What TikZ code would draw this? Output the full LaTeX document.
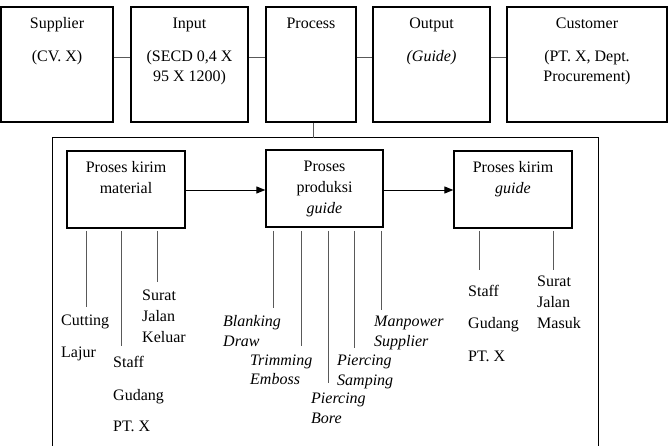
\documentclass[tikz,border=0pt]{standalone}
\usepackage{fontspec}
\setmainfont{Liberation Serif}
\usetikzlibrary{arrows.meta}
\begin{document}
\begin{tikzpicture}[x=1pt,y=-1pt,
  box/.style={draw, line width=1.3pt, inner sep=0pt},
  tx/.style={anchor=base, inner sep=0pt, font=\fontsize{16}{19}\selectfont},
  lb/.style={anchor=base west, inner sep=0pt, font=\fontsize{16}{19}\selectfont},
  conn/.style={draw=black!65, line width=0.8pt},
  arr/.style={-{Triangle[length=9pt,width=7pt]}, line width=0.9pt},
  frame/.style={draw, line width=1pt}]
\useasboundingbox (0,0) rectangle (669,446);
% top boxes
\node[box, minimum width=112pt, minimum height=115pt] (sup) at (57,64.5) {};
\node[box, minimum width=117pt, minimum height=115pt] (inp) at (189.5,64.5) {};
\node[box, minimum width=90pt, minimum height=115pt] (proc) at (311,64.5) {};
\node[box, minimum width=117pt, minimum height=115pt] (outp) at (431.5,64.5) {};
\node[box, minimum width=160pt, minimum height=115pt] (cust) at (587,64.5) {};
\node[tx] (supA) at (57,29) {Supplier};
\node[tx] (supB) at (57,62) {(CV. X)};
\node[tx] (inpA) at (189.5,29) {Input};
\node[tx] (inpB) at (189.5,62) {(SECD 0,4 X};
\node[tx] (inpC) at (189.5,82) {95 X 1200)};
\node[tx] (procA) at (311,29) {Process};
\node[tx] (outA) at (431.5,29) {Output};
\node[tx] (outB) at (431.5,62) {\itshape(Guide)};
\node[tx] (custA) at (587,29) {Customer};
\node[tx] (custB) at (587,62) {(PT. X, Dept.};
\node[tx] (custC) at (587,82) {Procurement)};
\draw[conn] ([yshift=7.5pt]sup.east) -- ([yshift=7.5pt]inp.west);
\draw[conn] ([yshift=7.5pt]inp.east) -- ([yshift=7.5pt]proc.west);
\draw[conn] ([yshift=7.5pt]proc.east) -- ([yshift=7.5pt]outp.west);
\draw[conn] ([yshift=7.5pt]outp.east) -- ([yshift=7.5pt]cust.west);
% frame
\coordinate (fbl) at (52,452);
\coordinate (ftl) at (52,138);
\coordinate (ftr) at (598,138);
\coordinate (fbr) at (598,452);
\draw[frame] (fbl) -- (ftl) -- (ftr) -- (fbr);
\coordinate (ft) at (313,138);
\draw[conn] (proc.south -| ft) -- (ft);
% inner boxes
\node[box, minimum width=118pt, minimum height=77pt] (mat) at (126,189.5) {};
\node[box, minimum width=117pt, minimum height=77pt] (prod) at (324.5,188.5) {};
\node[box, minimum width=118pt, minimum height=77pt] (kg) at (513,189.5) {};
\node[tx] (matA) at (126,173) {Proses kirim};
\node[tx] (matB) at (126,194) {material};
\node[tx] (prodA) at (324.5,172) {Proses};
\node[tx] (prodB) at (324.5,193) {produksi};
\node[tx] (prodC) at (324.5,214) {\itshape guide};
\node[tx] (kgA) at (513,173) {Proses kirim};
\node[tx] (kgB) at (513,194) {\itshape guide};
\draw[arr] (mat.east |- 0,190) -- (prod.west |- 0,190);
\draw[arr] (prod.east |- 0,190) -- (kg.west |- 0,190);
% legs under material
\coordinate (m1) at (86,307); \draw[conn] (86,231) -- (m1);
\coordinate (m2) at (121,346); \draw[conn] (121,231) -- (m2);
\coordinate (m3) at (157,282); \draw[conn] (157,231) -- (m3);
\node[lb] (l1a) at (61,325) {Cutting};
\node[lb] (l1b) at (61,357) {Lajur};
\node[lb] (l2a) at (113,367) {Staff};
\node[lb] (l2b) at (113,400) {Gudang};
\node[lb] (l2c) at (113,431) {PT. X};
\node[lb] (l3a) at (142,301) {Surat};
\node[lb] (l3b) at (142,321) {Jalan};
\node[lb] (l3c) at (142,342) {Keluar};
% legs under produksi
\coordinate (p1) at (273,308); \draw[conn] (273,231) -- (p1);
\coordinate (p2) at (301,346); \draw[conn] (301,231) -- (p2);
\coordinate (p3) at (328,383); \draw[conn] (328,231) -- (p3);
\coordinate (p4) at (354,348); \draw[conn] (354,231) -- (p4);
\coordinate (p5) at (381,310); \draw[conn] (381,231) -- (p5);
\node[lb] (q1a) at (223,326) {\itshape Blanking};
\node[lb] (q1b) at (223,346) {\itshape Draw};
\node[lb] (q2a) at (250,365) {\itshape Trimming};
\node[lb] (q2b) at (250,384) {\itshape Emboss};
\node[lb] (q3a) at (311,403) {\itshape Piercing};
\node[lb] (q3b) at (311,423) {\itshape Bore};
\node[lb] (q4a) at (337,365) {\itshape Piercing};
\node[lb] (q4b) at (337,385) {\itshape Samping};
\node[lb] (q5a) at (374,326) {\itshape Manpower};
\node[lb] (q5b) at (374,346) {\itshape Supplier};
% legs under kirim guide
\coordinate (k1) at (479,270); \draw[conn] (479,231) -- (k1);
\coordinate (k2) at (553,270); \draw[conn] (553,231) -- (k2);
\node[lb] (r1a) at (468,296) {Staff};
\node[lb] (r1b) at (468,328) {Gudang};
\node[lb] (r1c) at (468,361) {PT. X};
\node[lb] (r2a) at (537,287) {Surat};
\node[lb] (r2b) at (537,307) {Jalan};
\node[lb] (r2c) at (537,328) {Masuk};
\end{tikzpicture}
\end{document}
